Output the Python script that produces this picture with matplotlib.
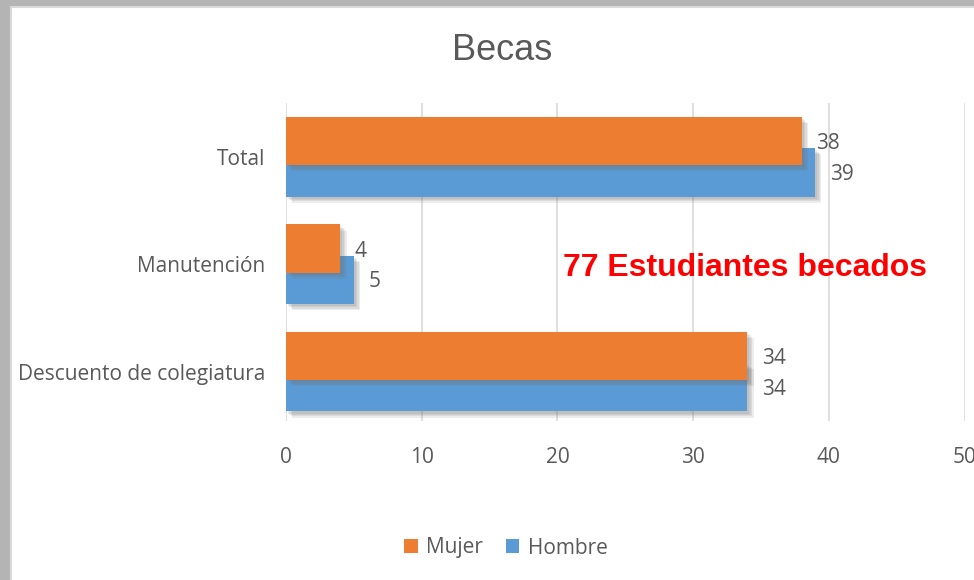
import numpy as np
import matplotlib.pyplot as plt
from matplotlib import patheffects as pe
from matplotlib.patches import Rectangle

categories = ["Descuento de colegiatura", "Manutención", "Total"]
mujer = [34, 4, 38]
hombre = [34, 5, 39]
x_ticks = [0, 10, 20, 30, 40, 50]

orange = "#ED7D31"
blue = "#5B9BD5"
txt = "#595959"
fs = 15

fig = plt.figure(figsize=(9.74, 5.8), dpi=100)
fig.patch.set_facecolor("#b4b4b4")

# white chart area (screenshot frame)
frame = Rectangle((11 / 974, -0.01), 1, 1 - 7 / 580 + 0.01, transform=fig.transFigure,
                  facecolor="white", edgecolor="#d9d9d9", linewidth=1.5, zorder=-10)
fig.add_artist(frame)

ax = fig.add_axes([286 / 974, 1 - 421 / 580, (964.5 - 286) / 974, (421 - 103) / 580])
ax.set_facecolor("none")

y = np.arange(len(categories))
h = 0.45
off = 0.146
# soft drop shadow, built from a few faint offset copies
shadow = [pe.SimplePatchShadow(offset=(k, -k), shadow_rgbFace="#6f6f6f", alpha=0.13)
          for k in (4.5, 3.5, 2.5, 1.5)] + [pe.Normal()]

bh = ax.barh(y - off, hombre, height=h, color=blue, label="Hombre", zorder=2,
             path_effects=shadow)
bm = ax.barh(y + off, mujer, height=h, color=orange, label="Mujer", zorder=3,
             path_effects=shadow)

for yi, v in zip(y, mujer):
    ax.annotate(str(v), (v, yi + off), xytext=(10.5, -2), textcoords="offset points",
                ha="left", va="center", fontsize=fs, color=txt, family="Open Sans")
for yi, v in zip(y, hombre):
    ax.annotate(str(v), (v, yi - off), xytext=(10.5, -1.5), textcoords="offset points",
                ha="left", va="center", fontsize=fs, color=txt, family="Open Sans")

ax.set_xlim(0, 50)
ax.set_ylim(-0.46, 2.5)
ax.set_xticks(x_ticks)
ax.set_yticks(y)
ax.set_yticklabels(categories)
ax.grid(axis="x", color="#d9d9d9", linewidth=1.2, zorder=0)
ax.set_axisbelow(True)
for s in ax.spines.values():
    s.set_visible(False)
ax.tick_params(axis="both", length=0, colors=txt, labelsize=fs)
ax.tick_params(axis="x", pad=19)
ax.tick_params(axis="y", pad=15)
for lab in ax.get_xticklabels() + ax.get_yticklabels():
    lab.set_family("Open Sans")
ax.get_xticklabels()[-1].set_clip_on(False)

fig.text(502 / 974, 1 - 51 / 580, "Becas", ha="center", va="center", fontsize=26,
         color=txt, family="Liberation Sans")
fig.text(745 / 974, 1 - 268 / 580, "77 Estudiantes becados", ha="center", va="center",
         fontsize=23, fontweight="bold", color="#FF0000", family="Liberation Sans")

leg = fig.legend(handles=[bm, bh], labels=["Mujer", "Hombre"], loc="center",
                 bbox_to_anchor=(506 / 974, 1 - 548 / 580), ncol=2, frameon=False,
                 handlelength=0.65, handleheight=0.65, handletextpad=0.4, columnspacing=1.1,
                 prop={"family": "Open Sans", "size": fs})
for t in leg.get_texts():
    t.set_color(txt)
for p in leg.legend_handles:
    p.set_path_effects([])

fig.savefig("out.png", dpi=100, facecolor=fig.get_facecolor())
